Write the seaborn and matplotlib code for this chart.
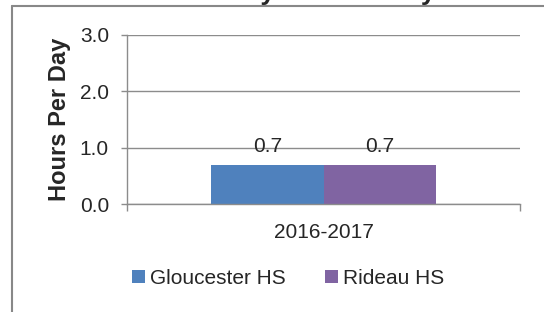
import pandas as pd
import matplotlib
matplotlib.use("Agg")
import matplotlib.pyplot as plt
from matplotlib.lines import Line2D
import seaborn as sns

# --- DATEN ---
years = ["2016-2017"]
schools = ["Gloucester HS", "Rideau HS"]
hours = [0.7, 0.7]
colors = ["#4F81BD", "#8064A2"]
title = "Hours Physical Activity"

GRID = "#8c8c8c"

sns.set_theme(style="white")
plt.rcParams["font.family"] = ["Liberation Sans", "DejaVu Sans"]

df = pd.DataFrame({
    "Year": years * len(schools),
    "School": schools,
    "Hours": hours,
})

fig = plt.figure(figsize=(5.44, 3.12), dpi=100)
ax = fig.add_axes([127 / 544, 1 - 204 / 312, 393 / 544, 169 / 312])

sns.barplot(data=df, x="Year", y="Hours", hue="School", palette=colors,
            saturation=1, width=0.571, gap=0, linewidth=0, ax=ax)

# Datenbeschriftungen
for cont in ax.containers:
    ax.bar_label(cont, fmt="%.1f", padding=6, fontsize=15)

ax.set_xlim(-0.5, 0.5)
ax.set_ylim(0, 3)
ax.set_yticks([0, 1, 2, 3])
ax.set_yticklabels([f"{v:.1f}" for v in [0, 1, 2, 3]], fontsize=15)
ax.yaxis.grid(True, color=GRID, linewidth=1.0)
ax.set_axisbelow(True)

# Achsen
for side in ["top", "right"]:
    ax.spines[side].set_visible(False)
for side in ["left", "bottom"]:
    ax.spines[side].set_color(GRID)
    ax.spines[side].set_linewidth(1.0)
ax.tick_params(axis="y", length=4, width=1.0, color=GRID, left=True, pad=9)
ax.tick_params(axis="x", which="major", length=0, labelsize=15, pad=14)
ax.set_xticks([-0.5, 0.5], minor=True)
ax.tick_params(axis="x", which="minor", length=5, width=1.0, color=GRID, bottom=True, direction="out")

ax.set_xlabel("")
ax.set_ylabel("Hours Per Day", fontsize=17, fontweight="bold", labelpad=6)

# Legende
handles, labels = ax.get_legend_handles_labels()
if ax.get_legend() is not None:
    ax.get_legend().remove()
fig.legend(handles, labels, loc="center", bbox_to_anchor=(288 / 544, 1 - 278 / 312),
           ncol=2, frameon=False, fontsize=15, handlelength=0.6, handleheight=0.6,
           handletextpad=0.25, columnspacing=1.9)

# Titel (oben abgeschnitten wie im Original)
fig.text(289 / 544, 1.0, title, ha="center", va="baseline",
         fontsize=19, fontweight="bold")

# Rahmen des Diagrammbereichs
fig.add_artist(Line2D([12 / 544, 12 / 544], [0, 1 - 6 / 312], color="#888888", lw=1.5))
fig.add_artist(Line2D([12 / 544, 1], [1 - 6 / 312, 1 - 6 / 312], color="#888888", lw=1.5))

fig.savefig("out.png", dpi=100)
